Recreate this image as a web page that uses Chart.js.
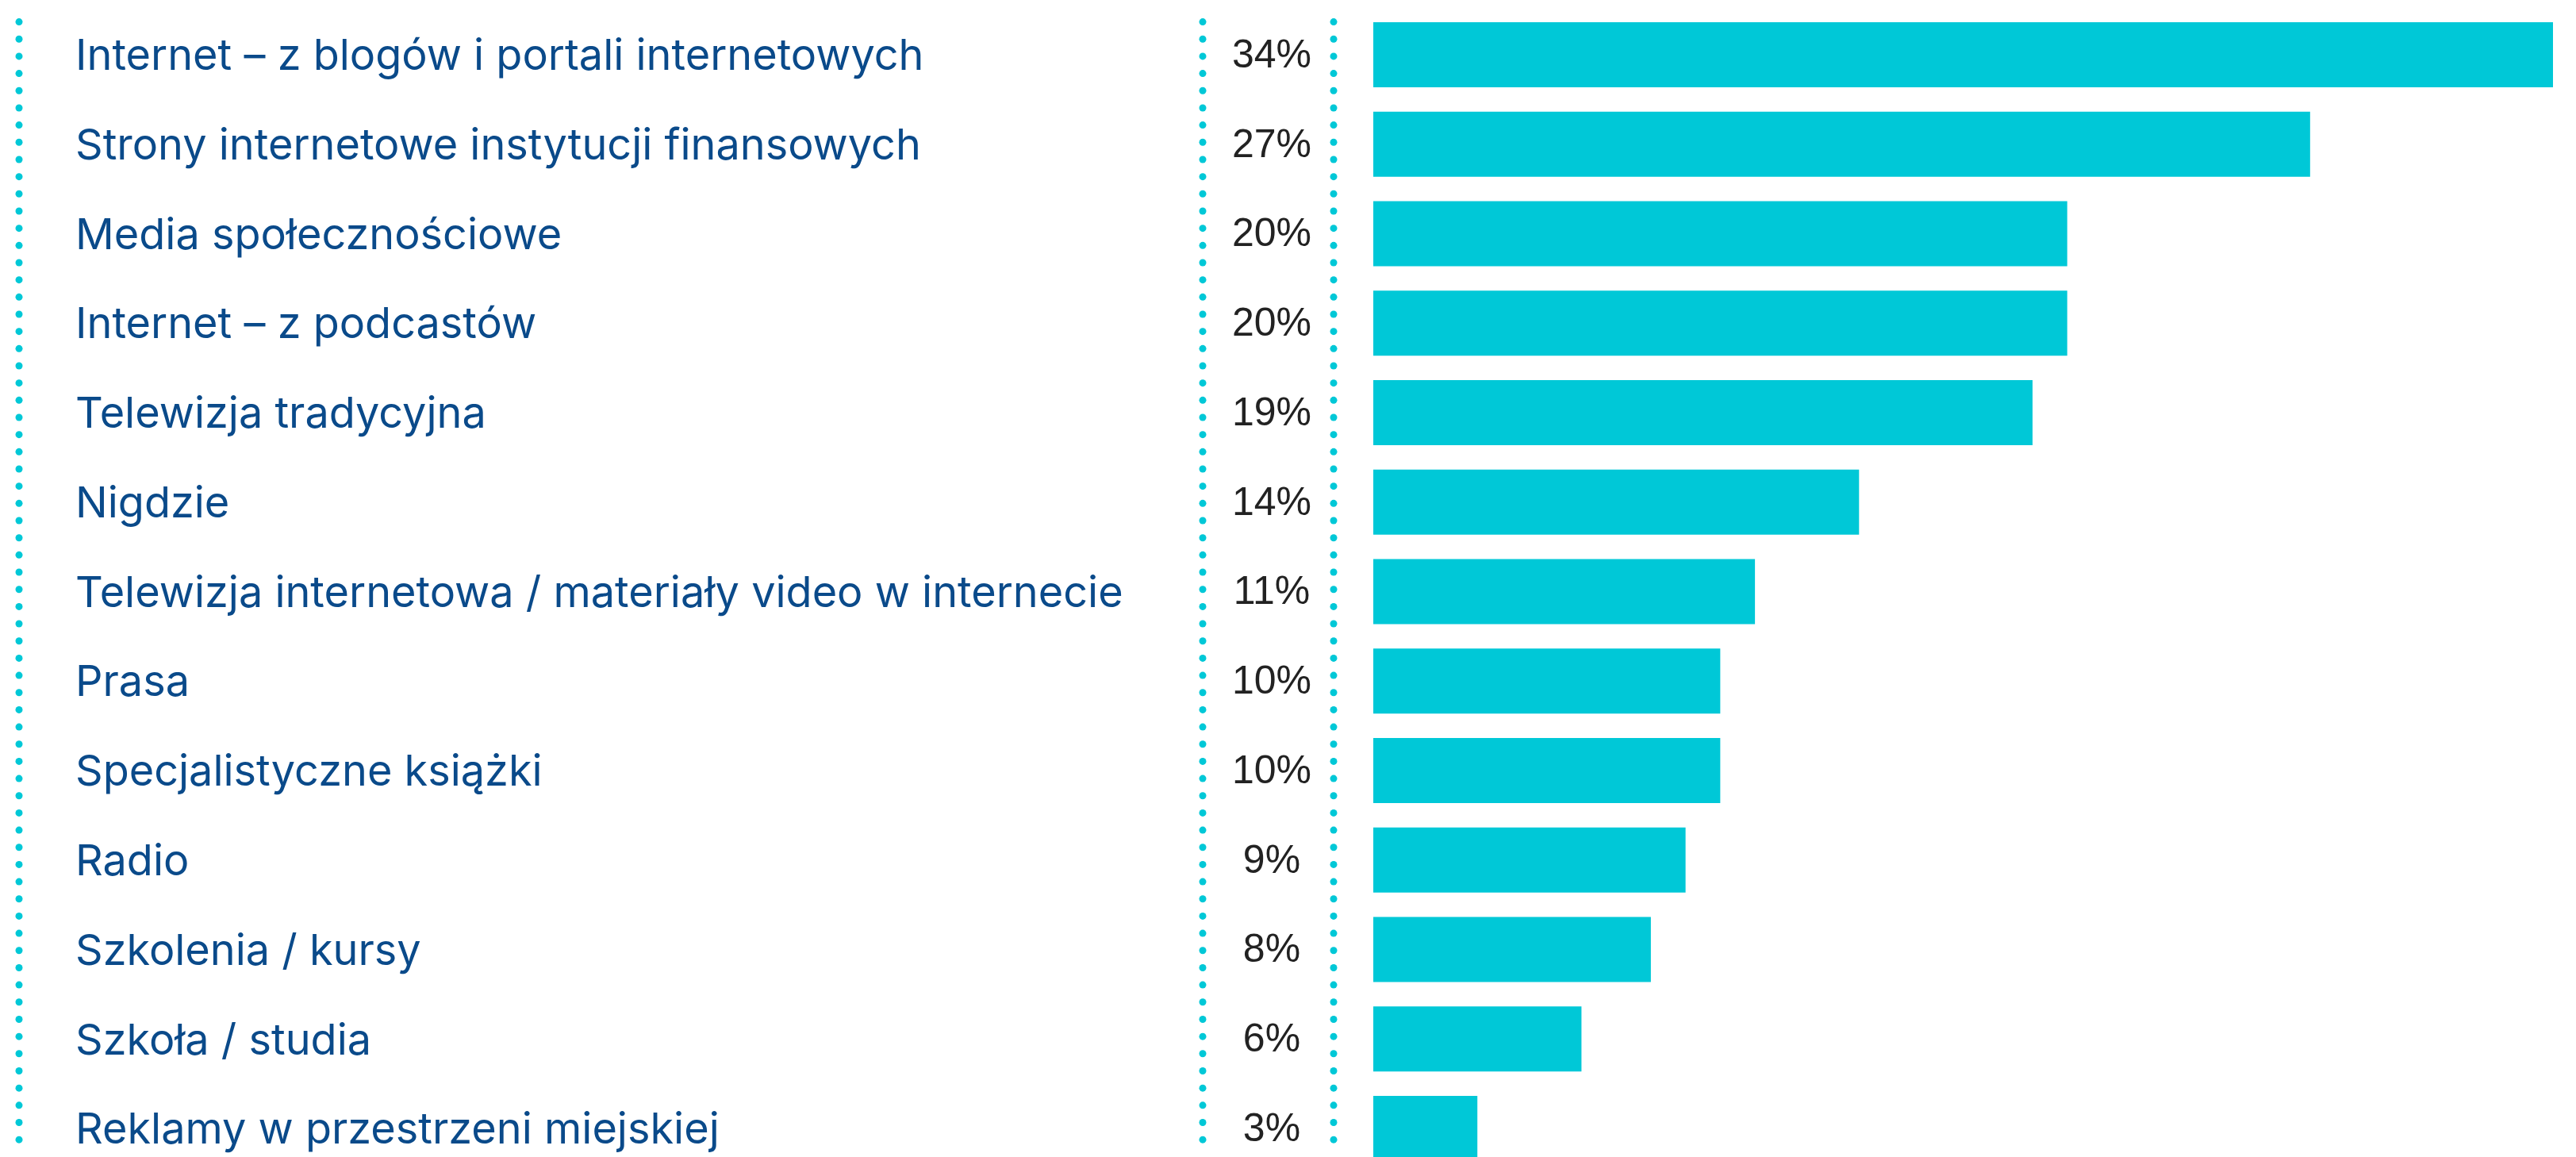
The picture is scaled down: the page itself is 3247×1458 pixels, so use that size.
<!DOCTYPE html>
<html>
<head>
<meta charset="utf-8">
<script src="https://cdn.jsdelivr.net/npm/chart.js@4"></script>
<style>
  html, body { margin: 0; padding: 0; background: #fff; overflow: hidden; }
  #wrap { position: relative; width: 3247px; height: 1480px; }
</style>
</head>
<body>
<div id="wrap"><canvas id="barChart"></canvas></div>
<script>
(function () {
    const kategorie = [
        'Internet – z blogów i portali internetowych',
        'Strony internetowe instytucji finansowych',
        'Media społecznościowe',
        'Internet – z podcastów',
        'Telewizja tradycyjna',
        'Nigdzie',
        'Telewizja internetowa / materiały video w internecie',
        'Prasa',
        'Specjalistyczne książki',
        'Radio',
        'Szkolenia / kursy',
        'Szkoła / studia',
        'Reklamy w przestrzeni miejskiej'
    ];
    const wartosci = [34, 27, 20, 20, 19, 14, 11, 10, 10, 9, 8, 6, 3];

    const paleta = {
        turkus: 'rgb(0, 200, 215)',
        granat: 'rgb(10, 74, 138)',
        czarny: '#222222'
    };

    // kolumna z procentami + kropkowane linie
    const kolumnaProcent = {
        id: 'kolumnaProcent',
        afterDatasetsDraw(chart) {
            const ctx = chart.ctx;
            const area = chart.chartArea;
            const meta = chart.getDatasetMeta(0);

            // kropki
            const linieX = [24, area.left - 215, area.left - 50];
            const gora = area.top + 15, dol = area.top + 1424, krok = 21.67;
            ctx.save();
            ctx.fillStyle = paleta.turkus;
            linieX.forEach(x => {
                for (let y = gora; y <= dol + 1; y += krok) {
                    ctx.beginPath();
                    ctx.arc(x, y, 4.5, 0, Math.PI * 2);
                    ctx.fill();
                }
            });

            // procenty
            ctx.fillStyle = paleta.czarny;
            ctx.font = '50px "Liberation Sans", Arial, sans-serif';
            ctx.textAlign = 'center';
            ctx.textBaseline = 'middle';
            meta.data.forEach((bar, i) => {
                ctx.fillText(wartosci[i] + '%', area.left - 128, bar.y + 2);
            });
            ctx.restore();
        }
    };

    const wykres = document.getElementById('barChart');
    if (wykres) {
        new Chart(wykres, {
            type: 'bar',
            data: {
                labels: kategorie,
                datasets: [{
                    data: wartosci,
                    backgroundColor: paleta.turkus,
                    borderWidth: 0,
                    barPercentage: 0.727,
                    categoryPercentage: 1
                }]
            },
            options: {
                indexAxis: 'y',
                responsive: true,
                maintainAspectRatio: false,
                animation: false,
                layout: { padding: { left: 95, right: 29, top: 12.6, bottom: 1.6 } },
                plugins: {
                    legend: { display: false },
                    tooltip: { enabled: false }
                },
                scales: {
                    x: { display: false, min: 0, max: 34 },
                    y: {
                        grid: { display: false },
                        border: { display: false },
                        ticks: {
                            crossAlign: 'far',
                            color: paleta.granat,
                            padding: 0,
                            labelOffset: 3,
                            font: { family: 'Inter', size: 54, lineHeight: 0.05 }
                        },
                        afterFit(scale) { scale.width = 1731 - 95; }
                    }
                }
            },
            plugins: [kolumnaProcent]
        });
    }
})();
</script>
</body>
</html>
